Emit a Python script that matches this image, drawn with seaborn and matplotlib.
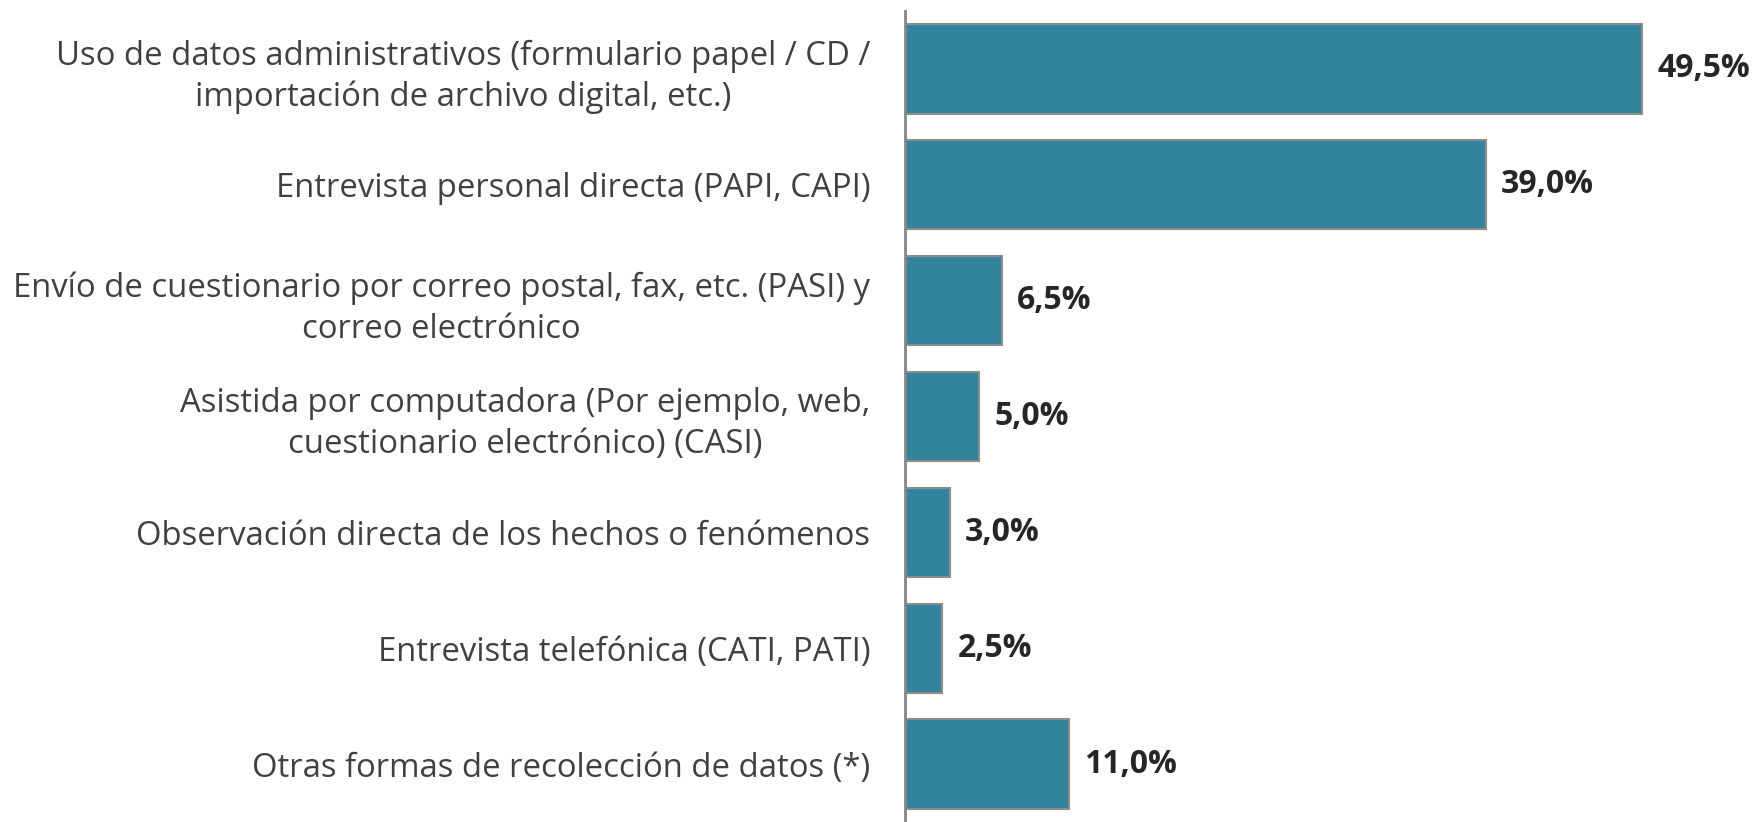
import matplotlib
matplotlib.use("Agg")
import matplotlib.pyplot as plt
import seaborn as sns
import pandas as pd

categories = [
    "Uso de datos administrativos (formulario papel / CD /\nimportación de archivo digital, etc.)",
    "Entrevista personal directa (PAPI, CAPI)",
    "Envío de cuestionario por correo postal, fax, etc. (PASI) y\ncorreo electrónico",
    "Asistida por computadora (Por ejemplo, web,\ncuestionario electrónico) (CASI)",
    "Observación directa de los hechos o fenómenos",
    "Entrevista telefónica (CATI, PATI)",
    "Otras formas de recolección de datos (*)",
]
values = [49.5, 39.0, 6.5, 5.0, 3.0, 2.5, 11.0]
value_labels = ["49,5%", "39,0%", "6,5%", "5,0%", "3,0%", "2,5%", "11,0%"]

sns.set_style("white")
plt.rcParams["font.family"] = ["Open Sans", "DejaVu Sans"]

df = pd.DataFrame({"categoria": categories, "valor": values})

fig = plt.figure(figsize=(17.56, 8.22), dpi=100)
ax = fig.add_axes([905 / 1756, 0.0, 834 / 1756, 811 / 822])

sns.barplot(data=df, x="valor", y="categoria", orient="h", color="#31849B",
            saturation=1, width=0.77, edgecolor="#8C8C8C", linewidth=1.5, ax=ax)

ax.set_xlim(0, 56)
ax.set_ylim(6.5, -0.5)
ax.set_xlabel("")
ax.set_ylabel("")
ax.set_xticks([])
sns.despine(ax=ax, top=True, right=True, bottom=True, left=False)
ax.spines["left"].set_color("#868686")
ax.spines["left"].set_linewidth(2)

ax.tick_params(axis="y", length=0, pad=25)
for lbl in ax.get_yticklabels():
    lbl.set_fontsize(23.7)
    lbl.set_color("#404040")
    lbl.set_multialignment("center")
    lbl.set_linespacing(1.32)

for i, (v, t) in enumerate(zip(values, value_labels)):
    ax.annotate(t, xy=(v, i), xytext=(11, 0), textcoords="offset points",
                va="center", ha="left", fontsize=23, fontweight="bold",
                color="#262626")

fig.savefig("out.png", dpi=100)
